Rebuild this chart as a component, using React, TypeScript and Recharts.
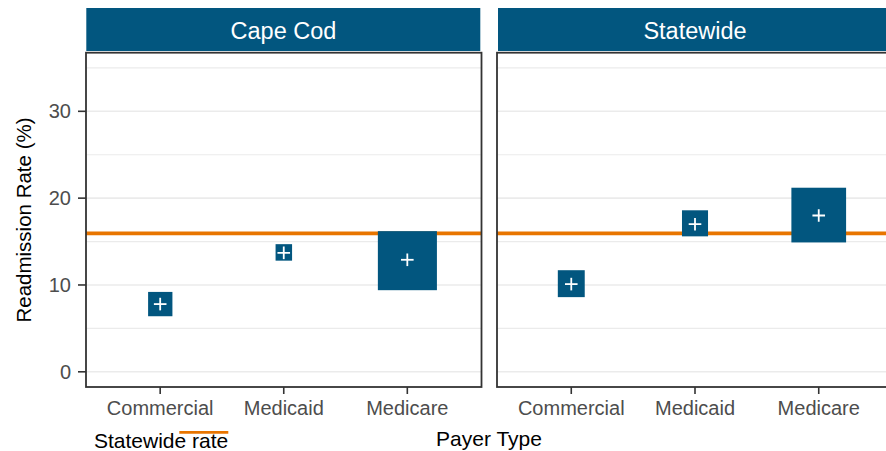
import React from 'react';
import {
  ComposedChart,
  Bar,
  Scatter,
  XAxis,
  YAxis,
  CartesianGrid,
  ReferenceLine,
} from 'recharts';

// ---- data ----
const categories = ['Commercial', 'Medicaid', 'Medicare'];
const panels = ['Cape Cod', 'Statewide'];
const capeCodEst = [7.8, 13.7, 12.9];
const capeCodLow = [6.4, 12.8, 9.4];
const capeCodHigh = [9.2, 14.7, 16.2];
const statewideEst = [10.1, 17.0, 18.0];
const statewideLow = [8.6, 15.6, 14.9];
const statewideHigh = [11.7, 18.6, 21.2];
const statewideRate = 15.95;
const yTicks = [0, 10, 20, 30];
const yMinorTicks = [5, 15, 25, 35];
const yDomain = [-1.75, 36.75];
const xTitle = 'Payer Type';
const yTitle = 'Readmission Rate (%)';
const legendLabel = 'Statewide rate';

const BLUE = '#02567F';
const ORANGE = '#E87500';
const FONT = '"Liberation Sans", Arial, Helvetica, sans-serif';

const buildRows = (est: number[], lo: number[], hi: number[]) =>
  categories.map((cat, i) => ({ cat, est: est[i], range: [lo[i], hi[i]] }));

const capeRows = buildRows(capeCodEst, capeCodLow, capeCodHigh);
const stateRows = buildRows(statewideEst, statewideLow, statewideHigh);

// square whose side equals the interval's pixel height, centred on the category
const SquareShape = (props: any) => {
  const { x, y, width, height } = props;
  if (height == null || width == null) return null;
  const h = Math.abs(height);
  const top = Math.min(y, y + height);
  const cx = x + width / 2;
  return <rect x={cx - h / 2} y={top} width={h} height={h} fill={BLUE} />;
};

const PlusShape = (props: any) => {
  const { cx, cy } = props;
  if (cx == null || cy == null) return null;
  const a = 6.3;
  return (
    <g stroke="#FFFFFF" strokeWidth={1.8}>
      <line x1={cx - a} y1={cy} x2={cx + a} y2={cy} />
      <line x1={cx} y1={cy - a} x2={cx} y2={cy + a} />
    </g>
  );
};

const tickStyle = { fill: '#4D4D4D', fontSize: 20, fontFamily: FONT };

function Panel({ rows, showY, width, marginLeft, marginRight }: any) {
  return (
    <ComposedChart
      width={width}
      height={451}
      data={rows}
      margin={{ top: 52.7, right: marginRight, bottom: 24, left: marginLeft }}
    >
      <CartesianGrid
        vertical={false}
        horizontalValues={yMinorTicks}
        stroke="#EBEBEB"
        strokeWidth={1.2}
      />
      <CartesianGrid
        vertical={false}
        horizontalValues={yTicks}
        stroke="#EBEBEB"
        strokeWidth={1.6}
      />
      <XAxis
        dataKey="cat"
        type="category"
        padding={{ left: 12.4, right: 12.4 }}
        axisLine={false}
        tickLine={{ stroke: '#333333', strokeWidth: 1.6 }}
        tickSize={7}
        tickMargin={7}
        height={40}
        tick={tickStyle}
        interval={0}
      />
      <YAxis
        type="number"
        domain={yDomain}
        ticks={yTicks}
        allowDataOverflow
        hide={!showY}
        width={86}
        axisLine={false}
        tickLine={{ stroke: '#333333', strokeWidth: 1.6 }}
        tickSize={8}
        tickMargin={7}
        tick={tickStyle}
      />
      <ReferenceLine
        y={statewideRate}
        stroke={ORANGE}
        strokeWidth={3.8}
        {...({ zIndex: -50 } as any)}
      />
      <Bar dataKey="range" shape={SquareShape} isAnimationActive={false} />
      <Scatter dataKey="est" shape={PlusShape} isAnimationActive={false} />
    </ComposedChart>
  );
}

export default function App() {
  return (
    <div
      style={{
        position: 'absolute',
        left: 0,
        top: 0,
        width: 886,
        height: 451,
        overflow: 'hidden',
        background: '#FFFFFF',
        fontFamily: FONT,
      }}
    >
      <div style={{ position: 'absolute', left: 0, top: 0 }}>
        <Panel rows={capeRows} showY width={490} marginLeft={0} marginRight={8.5} />
      </div>
      <div style={{ position: 'absolute', left: 489, top: 0 }}>
        <Panel rows={stateRows} showY={false} width={411} marginLeft={8} marginRight={7} />
      </div>
      <svg
        width={886}
        height={451}
        style={{ position: 'absolute', left: 0, top: 0, pointerEvents: 'none' }}
        fontFamily={FONT}
      >
        {/* strips */}
        <rect x={86.3} y={8} width={394} height={43} fill={BLUE} />
        <rect x={498} y={8} width={394.5} height={43} fill={BLUE} />
        <text x={283.5} y={38.5} fill="#FFFFFF" fontSize={23.5} textAnchor="middle">
          {panels[0]}
        </text>
        <text x={695} y={38.5} fill="#FFFFFF" fontSize={23.5} textAnchor="middle">
          {panels[1]}
        </text>
        {/* panel borders */}
        <rect x={86} y={52.7} width={395.5} height={334.3} fill="none" stroke="#333333" strokeWidth={1.8} />
        <rect x={497} y={52.7} width={396} height={334.3} fill="none" stroke="#333333" strokeWidth={1.8} />
        {/* axis titles */}
        <text x={489} y={445.5} fontSize={21} fill="#000000" textAnchor="middle">
          {xTitle}
        </text>
        <text
          x={31}
          y={220}
          fontSize={20.5}
          fill="#000000"
          textAnchor="middle"
          transform="rotate(-90 31 220)"
        >
          {yTitle}
        </text>
        {/* legend */}
        <line x1={179.3} y1={432.3} x2={228.3} y2={432.3} stroke={ORANGE} strokeWidth={2.8} />
        <text x={94} y={448.3} fontSize={21} fill="#000000">
          {legendLabel}
        </text>
      </svg>
    </div>
  );
}
